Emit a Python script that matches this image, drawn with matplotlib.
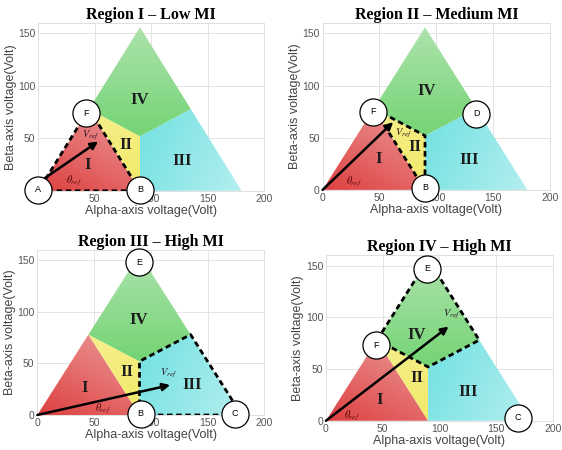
import numpy as np
import matplotlib
matplotlib.use("Agg")
import matplotlib.pyplot as plt
from matplotlib.patches import Polygon
from matplotlib.colors import to_rgb

plt.rcParams['mathtext.fontset'] = 'stix'

# ---- data ----
titles = ["Region I \u2013 Low MI", "Region II \u2013 Medium MI",
          "Region III \u2013 High MI", "Region IV \u2013 High MI"]
region_names = ["I", "II", "III", "IV"]
region_verts = [
    [(0, 0), (90, 0), (45, 77.94)],
    [(45, 77.94), (90, 51.96), (90, 0)],
    [(90, 0), (180, 0), (135, 77.94), (90, 51.96)],
    [(45, 77.94), (90, 155.88), (135, 77.94), (90, 51.96)],
]
# gradient colours (start colour at start point, end colour at end point)
region_c0 = ['#de4040', '#f2ea68', '#7ae2e3', '#74d474']
region_c1 = ['#e98a8a', '#f5ef8e', '#b4efef', '#ade3ad']
region_p0 = [(0, 0), (90, 0), (90, 40), (90, 52)]
region_p1 = [(45, 78), (45, 78), (180, 0), (90, 156)]

# label positions of roman numerals for each panel
numeral_pos = [
    [(44, 25), (78, 44), (127, 28), (90, 87)],
    [(49, 30), (81, 41), (129, 29), (91, 95)],
    [(42, 26), (79, 42), (136, 29), (89, 92)],
    [(47, 20), (80, 41), (125, 28), (80, 83)],
]
highlight = [0, 1, 2, 3]  # dashed region per panel

circle_labels = [["A", "B", "F"], ["F", "D", "B"], ["E", "B", "C"], ["E", "F", "C"]]
circle_pos = [
    [(0, 1), (90, 1), (42, 74)],
    [(44, 75), (135, 73), (90, 2)],
    [(90, 148), (91, 1), (174, 1)],
    [(89, 147), (44, 73), (169, 3)],
]
arrow_start = [(3, 10), (0, 0), (0, 0), (0, 0)]
arrow_end = [(53, 47), (62, 65), (117, 29), (108, 91)]
vref_pos = [(46, 53), (71, 54), (116, 40), (111, 103)]
theta_pos = [(32, 9), (28, 8), (58, 6), (23, 5)]

xticks = [0, 50, 100, 150, 200]
yticks = [0, 50, 100, 150]

axes_rects = [
    [0.0681, 0.576, 0.402, 0.373],
    [0.574, 0.578, 0.405, 0.371],
    [0.0664, 0.0778, 0.404, 0.367],
    [0.580, 0.065, 0.404, 0.368],
]

fig = plt.figure(figsize=(5.62, 4.5), dpi=100)


def grad_fill(ax, verts, c0, c1, p0, p1):
    v = np.array(verts)
    xmin, ymin = v.min(axis=0)
    xmax, ymax = v.max(axis=0)
    xs = np.linspace(xmin, xmax, 200)
    ys = np.linspace(ymin, ymax, 200)
    X, Y = np.meshgrid(xs, ys)
    dx, dy = p1[0] - p0[0], p1[1] - p0[1]
    t = ((X - p0[0]) * dx + (Y - p0[1]) * dy) / (dx * dx + dy * dy)
    t = np.clip(t, 0, 1)[..., None]
    a = np.array(to_rgb(c0))
    b = np.array(to_rgb(c1))
    img = a * (1 - t) + b * t
    im = ax.imshow(img, extent=(xmin, xmax, ymin, ymax), origin='lower',
                   aspect='auto', zorder=1, interpolation='bilinear')
    poly = Polygon(verts, closed=True, facecolor='none', edgecolor='none',
                   transform=ax.transData)
    ax.add_patch(poly)
    im.set_clip_path(poly)


for k in range(4):
    ax = fig.add_axes(axes_rects[k])
    for r in range(4):
        grad_fill(ax, region_verts[r], region_c0[r], region_c1[r],
                  region_p0[r], region_p1[r])
    # dashed outline
    hv = region_verts[highlight[k]]
    hx = [p[0] for p in hv] + [hv[0][0]]
    hy = [p[1] for p in hv] + [hv[0][1]]
    ax.plot(hx, hy, color='black', lw=2.0, ls=(0, (2.0, 1.3)), zorder=3)
    # numerals
    for r in range(4):
        x, y = numeral_pos[k][r]
        ax.text(x, y, region_names[r], ha='center', va='center',
                fontfamily='Liberation Serif', fontweight='bold',
                fontsize=12, color='#1c1c1c', zorder=4)
    # arrow
    ax.annotate('', xy=arrow_end[k], xytext=arrow_start[k],
                arrowprops=dict(arrowstyle='-|>', lw=1.8, color='black',
                                mutation_scale=11, shrinkA=0, shrinkB=0),
                zorder=4)
    ax.text(*vref_pos[k], r'$V_{ref}$', fontsize=7.5, color='#2a1020',
            ha='center', va='center', zorder=4)
    ax.text(*theta_pos[k], r'$\theta_{ref}$', fontsize=7.5, color='#5a0a0a',
            ha='center', va='center', zorder=4)
    # circles
    for lab, (cx, cy) in zip(circle_labels[k], circle_pos[k]):
        ax.plot([cx], [cy], 'o', ms=19.5, mfc='white', mec='black', mew=0.9,
                clip_on=False, zorder=6)
        ax.text(cx, cy, lab, ha='center', va='center', fontsize=6.5,
                fontfamily='Liberation Sans', color='black', zorder=7,
                clip_on=False)

    ax.set_xlim(0, 200)
    ax.set_ylim(0, 160)
    ax.set_xticks(xticks)
    ax.set_yticks(yticks)
    ax.grid(True, color='#e4e4e4', lw=0.7)
    ax.set_axisbelow(True)
    ax.tick_params(length=0, labelsize=7.5, labelcolor='#555555', pad=2)
    for lbl in ax.get_xticklabels() + ax.get_yticklabels():
        lbl.set_fontfamily('Liberation Sans')
    for s in ax.spines.values():
        s.set_color('#e0e0e0')
        s.set_linewidth(0.7)
    ax.set_xlabel('Alpha-axis voltage(Volt)', fontfamily='Liberation Sans',
                  fontsize=9, color='#444444', labelpad=1)
    ax.set_ylabel('Beta-axis voltage(Volt)', fontfamily='Liberation Sans',
                  fontsize=9, color='#444444', labelpad=1)
    ax.set_title(titles[k], fontfamily='Liberation Serif', fontweight='bold',
                 fontsize=11.5, pad=3)

fig.savefig('out.png', dpi=100)
